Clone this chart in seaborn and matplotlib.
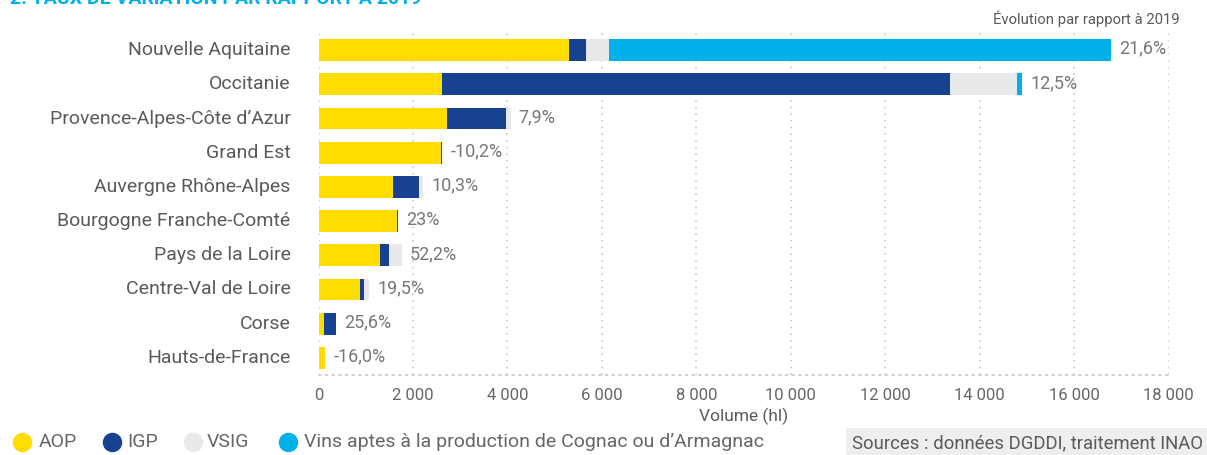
import matplotlib
matplotlib.use("Agg")
import matplotlib.pyplot as plt
import matplotlib.transforms as mtransforms
import seaborn as sns
import pandas as pd
from matplotlib.lines import Line2D
from matplotlib.ticker import FuncFormatter, MultipleLocator

regions = ["Nouvelle Aquitaine", "Occitanie", "Provence-Alpes-Côte d’Azur", "Grand Est",
           "Auvergne Rhône-Alpes", "Bourgogne Franche-Comté", "Pays de la Loire",
           "Centre-Val de Loire", "Corse", "Hauts-de-France"]
aop = [5300, 2620, 2720, 2595, 1580, 1660, 1300, 880, 120, 140]
igp = [360, 10760, 1250, 25, 550, 25, 190, 85, 250, 0]
vsig = [490, 1420, 100, 0, 85, 0, 275, 105, 0, 0]
cognac = [10640, 105, 0, 0, 0, 0, 0, 0, 0, 0]
variation = ["21,6%", "12,5%", "7,9%", "-10,2%", "10,3%", "23%", "52,2%", "19,5%", "25,6%", "-16,0%"]
series_names = ["AOP", "IGP", "VSIG", "Vins aptes à la production de Cognac ou d’Armagnac"]
colors = ["#FFDD00", "#174291", "#E8E9EB", "#00B0E8"]

sns.set_theme(style="white")
plt.rcParams["font.family"] = ["Roboto", "DejaVu Sans"]

df = pd.DataFrame({"region": regions, "AOP": aop, "IGP": igp, "VSIG": vsig, "Cognac": cognac})
df["c1"] = df["AOP"]
df["c2"] = df["c1"] + df["IGP"]
df["c3"] = df["c2"] + df["VSIG"]
df["c4"] = df["c3"] + df["Cognac"]

W, H = 1207, 455
fig = plt.figure(figsize=(W / 100, H / 100), dpi=100)
ax = fig.add_axes([318.5 / W, 1 - 375 / H, 850 / W, 342 / H])

for col, c in zip(["c4", "c3", "c2", "c1"], colors[::-1]):
    sns.barplot(data=df, x=col, y="region", orient="h", color=c, saturation=1,
                width=0.64, linewidth=0, ax=ax, order=regions)

ax.set_xlim(0, 18000)
ax.set_ylim(9.5, -0.5)
ax.xaxis.set_major_locator(MultipleLocator(2000))
ax.xaxis.set_major_formatter(FuncFormatter(lambda v, p: f"{int(v):,}".replace(",", " ")))
ax.set_axisbelow(True)
ax.grid(axis="x", color="#c8c8c8", linestyle=(0, (1, 3)), linewidth=1.2)
ax.grid(axis="y", visible=False)
for s in ["top", "right", "left"]:
    ax.spines[s].set_visible(False)
ax.spines["bottom"].set_color("#c8c8c8")
ax.spines["bottom"].set_linestyle((0, (1, 3)))
ax.spines["bottom"].set_linewidth(1.2)

ax.tick_params(axis="y", length=0, pad=20, labelsize=14, labelcolor="#5a5a5a")
ax.tick_params(axis="x", length=0, pad=9, labelsize=12, labelcolor="#666666")
shift = mtransforms.ScaledTranslation(0, 2 / 100, fig.dpi_scale_trans)
for t in ax.get_yticklabels():
    t.set_transform(t.get_transform() + shift)
ax.set_ylabel("")
ax.set_xlabel("Volume (hl)", fontsize=12.5, color="#5a5a5a", labelpad=4)

for i, (tot, lab) in enumerate(zip(df["c4"], variation)):
    ax.annotate(lab, xy=(tot, i), xytext=(5.8, 1), textcoords="offset points",
                va="center", ha="left", fontsize=13, color="#777777")

fig.text(1180 / W, 1 - 19 / H, "Évolution par rapport à 2019", ha="right", va="center",
         fontsize=10.7, color="#5a5a5a")

fig.text(10 / W, 1 - 4 / H, "2. TAUX DE VARIATION PAR RAPPORT À 2019", ha="left",
         va="baseline", fontsize=14, fontweight="bold", color="#00B0E8")

marker_x = [22, 112, 193, 288]
text_x = [39, 127, 207, 304]
ly = 1 - 442 / H
for name, c, mx, tx in zip(series_names, colors, marker_x, text_x):
    fig.add_artist(Line2D([mx / W], [ly], marker="o", linestyle="none", markersize=13,
                          markerfacecolor=c, markeredgecolor=c, transform=fig.transFigure))
    fig.text(tx / W, ly, name, ha="left", va="center", fontsize=14, color="#666666")

fig.text(1203 / W, 1 - 443 / H, "Sources : données DGDDI, traitement INAO", ha="right",
         va="center", fontsize=13.3, color="#5a5a5a",
         bbox=dict(boxstyle="square,pad=0.3", facecolor="#EEEEEE", edgecolor="none"))

fig.savefig("out.png", dpi=100)
